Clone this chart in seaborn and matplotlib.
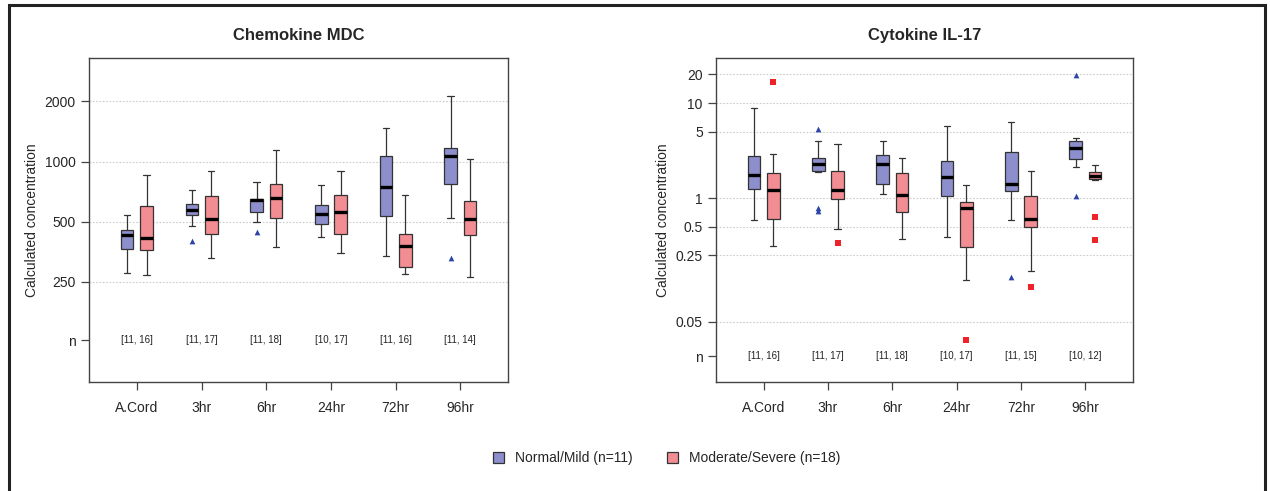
import numpy as np
import pandas as pd
import matplotlib
import matplotlib.pyplot as plt
import seaborn as sns
from matplotlib.patches import Rectangle, Patch

matplotlib.use("Agg")

# -----------------------------------------------------------------------
# Data (five-number summaries)
# -----------------------------------------------------------------------
TIMES = ["A.Cord", "3hr", "6hr", "24hr", "72hr", "96hr"]
GROUPS = ["Normal/Mild (n=11)", "Moderate/Severe (n=18)"]

# Chemokine MDC - Normal/Mild
mdc_mild_lo  = [276, 476, 500, 420, 339, 524]
mdc_mild_q1  = [365, 542, 561, 485, 532, 773]
mdc_mild_med = [427, 574, 640, 550, 746, 1061]
mdc_mild_q3  = [456, 616, 652, 604, 1072, 1167]
mdc_mild_hi  = [540, 723, 794, 767, 1480, 2127]
# Chemokine MDC - Moderate/Severe
mdc_sev_lo  = [271, 330, 375, 348, 274, 264]
mdc_sev_q1  = [361, 435, 525, 435, 298, 427]
mdc_sev_med = [417, 517, 657, 559, 378, 514]
mdc_sev_q3  = [597, 670, 770, 678, 435, 637]
mdc_sev_hi  = [854, 894, 1144, 894, 678, 1027]
mdc_n_labels = ["[11, 16]", "[11, 17]", "[11, 18]", "[10, 17]", "[11, 16]", "[11, 14]"]
mdc_mild_out_time = ["3hr", "6hr", "96hr"]
mdc_mild_out_val  = [400, 444, 331]
mdc_sev_out_time = []
mdc_sev_out_val  = []

# Cytokine IL-17 - Normal/Mild
il17_mild_lo  = [0.589, 1.89, 1.11, 0.391, 0.589, 2.13]
il17_mild_q1  = [1.256, 1.95, 1.42, 1.05, 1.187, 2.55]
il17_mild_med = [1.755, 2.28, 2.30, 1.685, 1.397, 3.34]
il17_mild_q3  = [2.79, 2.64, 2.86, 2.43, 3.08, 3.97]
il17_mild_hi  = [8.83, 4.03, 4.0, 5.77, 6.37, 4.27]
# Cytokine IL-17 - Moderate/Severe
il17_sev_lo  = [0.314, 0.468, 0.370, 0.138, 0.170, 1.56]
il17_sev_q1  = [0.598, 0.976, 0.722, 0.309, 0.50, 1.58]
il17_sev_med = [1.206, 1.206, 1.085, 0.789, 0.598, 1.727]
il17_sev_q3  = [1.83, 1.935, 1.84, 0.914, 1.059, 1.86]
il17_sev_hi  = [2.91, 3.72, 2.64, 1.386, 1.95, 2.24]
il17_n_labels = ["[11, 16]", "[11, 17]", "[11, 18]", "[10, 17]", "[11, 15]", "[10, 12]"]
il17_mild_out_time = ["3hr", "3hr", "3hr", "72hr", "96hr", "96hr"]
il17_mild_out_val  = [5.28, 0.777, 0.728, 0.147, 19.6, 1.06]
il17_sev_out_time = ["A.Cord", "3hr", "24hr", "72hr", "96hr", "96hr"]
il17_sev_out_val  = [16.8, 0.335, 0.032, 0.116, 0.628, 0.364]

BOX_COLORS = {GROUPS[0]: "#8c8fcb", GROUPS[1]: "#f28d93"}
OUT_COLORS = {GROUPS[0]: "#2c44a8", GROUPS[1]: "#ee2228"}
OUT_MARKERS = {GROUPS[0]: "^", GROUPS[1]: "s"}
OUT_SIZES = {GROUPS[0]: 17, GROUPS[1]: 16}


def build_box_table(mild, sev):
    """Each group gets exactly its five summary values, so quartiles match."""
    rows = []
    for grp, stats in zip(GROUPS, [mild, sev]):
        for i, t in enumerate(TIMES):
            for s in stats:
                rows.append({"time": t, "group": grp, "value": s[i]})
    return pd.DataFrame(rows)


def build_out_table(mild_t, mild_v, sev_t, sev_v):
    rows = []
    for grp, ts, vs, off in [(GROUPS[0], mild_t, mild_v, -0.15),
                             (GROUPS[1], sev_t, sev_v, 0.15)]:
        for t, v in zip(ts, vs):
            rows.append({"x": TIMES.index(t) + off, "group": grp, "value": v})
    return pd.DataFrame(rows, columns=["x", "group", "value"])


def draw_panel(ax, box_df, out_df, n_labels, title, ticks, ticklabels, ylim):
    sns.boxplot(data=box_df, x="time", y="value", hue="group", order=TIMES,
                hue_order=GROUPS, palette=BOX_COLORS, saturation=1,
                whis=np.inf, width=0.6, gap=0.35, linecolor="#333333",
                linewidth=0.9, log_scale=True,
                medianprops={"color": "black", "linewidth": 2.4},
                legend=False, ax=ax)
    for grp in GROUPS:
        sub = out_df[out_df["group"] == grp]
        if len(sub):
            ax.scatter(sub["x"], sub["value"], marker=OUT_MARKERS[grp],
                       color=OUT_COLORS[grp], s=OUT_SIZES[grp], linewidths=0,
                       zorder=4)

    ax.set_ylim(*ylim)
    ax.set_xlim(-0.74, len(TIMES) - 1 + 0.74)
    ax.set_yticks(ticks)
    ax.set_yticklabels(ticklabels)
    ax.minorticks_off()
    ax.yaxis.grid(True, linestyle=(0, (1.5, 1.5)), color="#cccccc", linewidth=0.8)
    ax.get_ygridlines()[0].set_visible(False)
    ax.set_axisbelow(True)

    for i, lab in enumerate(n_labels):
        ax.text(i, ticks[0], lab, ha="center", va="center", fontsize=7,
                color="#222222")

    ax.set_title(title, fontsize=12, fontweight="bold", pad=13)
    ax.set_xlabel("")
    ax.set_ylabel("Calculated concentration", fontsize=10)
    ax.tick_params(axis="both", labelsize=10, length=6, width=0.9,
                   color="#444444", direction="out")
    ax.tick_params(axis="x", pad=8)
    for sp in ax.spines.values():
        sp.set_visible(True)
        sp.set_color("#444444")
        sp.set_linewidth(1.0)


def main():
    sns.set_style("ticks")
    plt.rcParams["font.family"] = ["Liberation Sans", "DejaVu Sans"]

    fig = plt.figure(figsize=(12.7, 4.91), dpi=100)
    ax1 = fig.add_axes([0.0701, 0.222, 0.330, 0.660])
    ax2 = fig.add_axes([0.5638, 0.222, 0.3283, 0.660])

    mdc_box = build_box_table(
        [mdc_mild_lo, mdc_mild_q1, mdc_mild_med, mdc_mild_q3, mdc_mild_hi],
        [mdc_sev_lo, mdc_sev_q1, mdc_sev_med, mdc_sev_q3, mdc_sev_hi])
    mdc_out = build_out_table(mdc_mild_out_time, mdc_mild_out_val,
                              mdc_sev_out_time, mdc_sev_out_val)
    draw_panel(ax1, mdc_box, mdc_out, mdc_n_labels, "Chemokine MDC",
               [128, 250, 500, 1000, 2000], ["n", "250", "500", "1000", "2000"],
               (79, 3300))

    il17_box = build_box_table(
        [il17_mild_lo, il17_mild_q1, il17_mild_med, il17_mild_q3, il17_mild_hi],
        [il17_sev_lo, il17_sev_q1, il17_sev_med, il17_sev_q3, il17_sev_hi])
    il17_out = build_out_table(il17_mild_out_time, il17_mild_out_val,
                               il17_sev_out_time, il17_sev_out_val)
    draw_panel(ax2, il17_box, il17_out, il17_n_labels, "Cytokine IL-17",
               [0.0218, 0.05, 0.25, 0.5, 1, 5, 10, 20],
               ["n", "0.05", "0.25", "0.5", "1", "5", "10", "20"],
               (0.01162, 29.8))

    handles = [Patch(facecolor=BOX_COLORS[g], edgecolor="#333333", linewidth=0.9)
               for g in GROUPS]
    fig.legend(handles, GROUPS, loc="center", bbox_to_anchor=(0.525, 0.067),
               ncol=2, frameon=False, fontsize=10, handlelength=0.8,
               handleheight=0.8, columnspacing=2.5)

    fig.add_artist(Rectangle((0.0071, -0.05), 0.989, 1.0398, fill=False,
                             edgecolor="#222222", linewidth=2.2,
                             transform=fig.transFigure))

    fig.savefig("out.png", dpi=100)
    plt.close(fig)


if __name__ == "__main__":
    main()
